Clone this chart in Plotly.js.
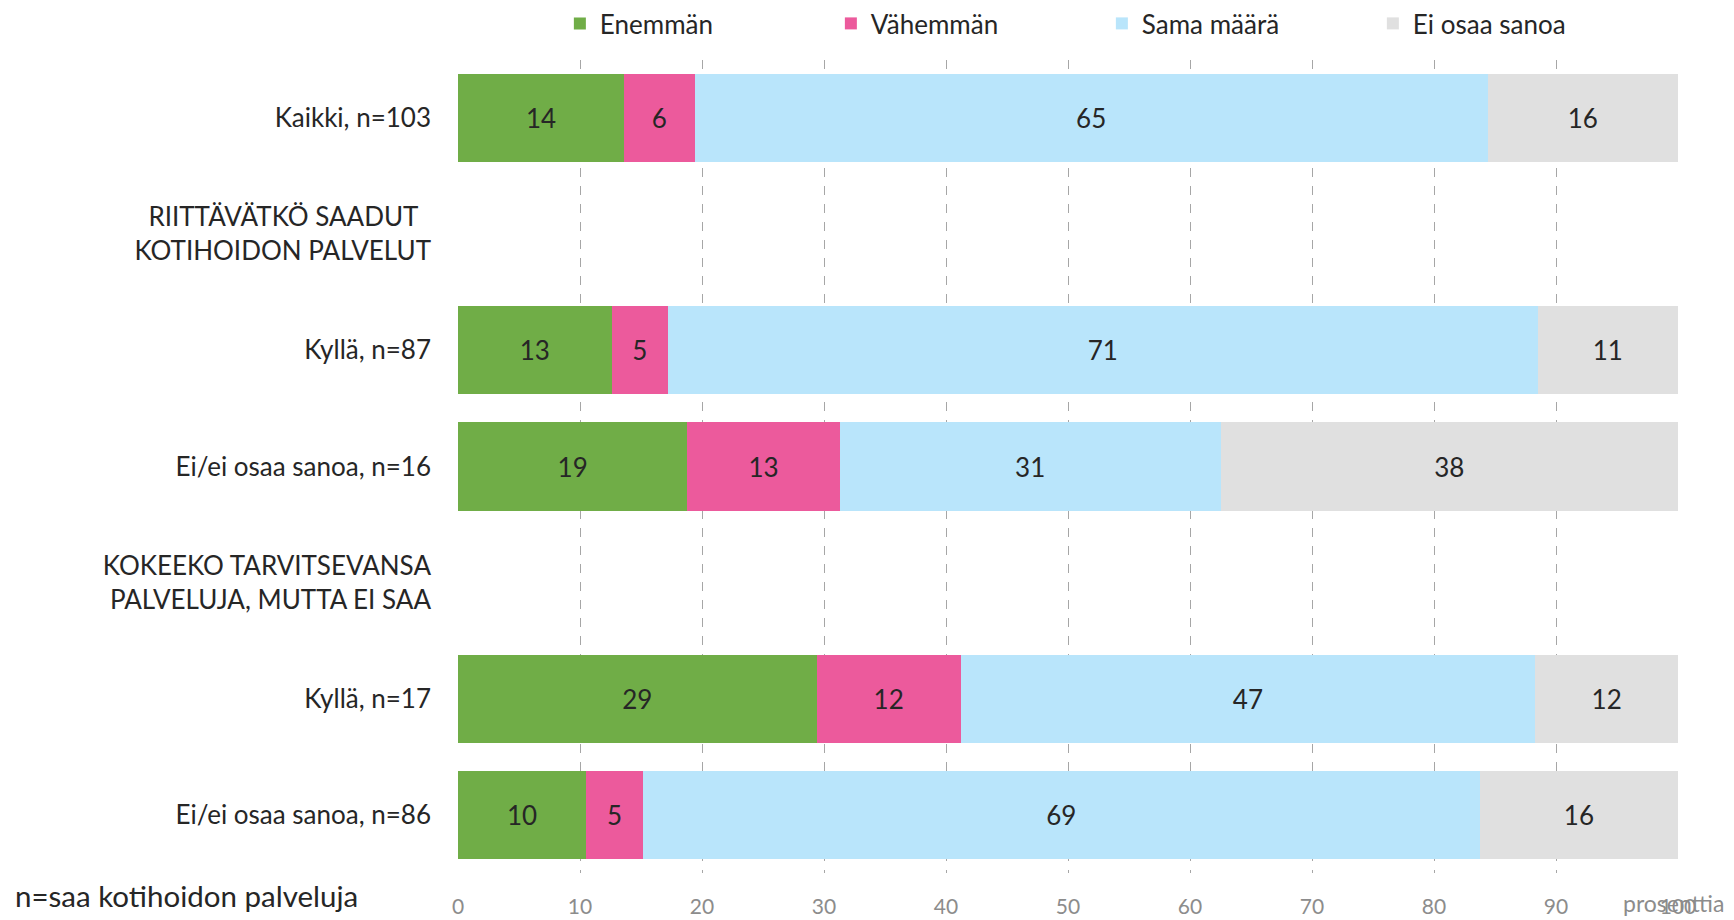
<!DOCTYPE html>
<html>
<head>
<meta charset="utf-8">
<script src="https://cdn.plot.ly/plotly-3.0.1.min.js"></script>
<style>
html,body{margin:0;padding:0;background:#fff;}
#chart{width:1734px;height:920px;}
</style>
</head>
<body>
<div id="chart"></div>
<script>
// Rows (top to bottom); header rows carry no bars
const categories = [
  "Kaikki, n=103",
  "RIITTÄVÄTKÖ SAADUT\u00a0\u00a0<br>KOTIHOIDON PALVELUT",
  "Kyllä, n=87",
  "Ei/ei osaa sanoa, n=16",
  "KOKEEKO TARVITSEVANSA<br>PALVELUJA, MUTTA EI SAA",
  "Kyllä, n=17\u200b",
  "Ei/ei osaa sanoa, n=86\u200b"
];
const barRows = ["Kaikki, n=103", "Kyllä, n=87", "Ei/ei osaa sanoa, n=16", "Kyllä, n=17\u200b", "Ei/ei osaa sanoa, n=86\u200b"];

const seriesNames = ["Enemmän", "Vähemmän", "Sama määrä", "Ei osaa sanoa"];
const enemman      = [13.6, 12.6, 18.8, 29.4, 10.5];
const vahemman     = [5.8, 4.6, 12.5, 11.8, 4.65];
const samaMaara    = [65.0, 71.3, 31.2, 47.1, 68.6];
const eiOsaaSanoa  = [15.6, 11.5, 37.5, 11.7, 16.25];
const enemmanLbl   = ["14", "13", "19", "29", "10"];
const vahemmanLbl  = ["6", "5", "13", "12", "5"];
const samaLbl      = ["65", "71", "31", "47", "69"];
const eiLbl        = ["16", "11", "38", "12", "16"];
const xTicks = [0, 10, 20, 30, 40, 50, 60, 70, 80, 90, 100];

const colors = ["#70AD47", "#EC5A9C", "#B9E5FB", "#E0E0E0"];
const values = [enemman, vahemman, samaMaara, eiOsaaSanoa];
const labels = [enemmanLbl, vahemmanLbl, samaLbl, eiLbl];

const FONT = "Lato, 'Open Sans', sans-serif";

const traces = seriesNames.map((name, i) => ({
  type: "bar",
  orientation: "h",
  name: name,
  y: barRows,
  x: values[i],
  text: labels[i],
  textposition: "inside",
  insidetextanchor: "middle",
  constraintext: "none",
  textfont: {family: FONT, size: 26, color: "#262626"},
  marker: {color: colors[i], line: {width: 0}},
  hoverinfo: "none"
}));

// keep header rows on the category axis
traces.push({
  type: "bar", orientation: "h", y: categories, x: categories.map(() => 0),
  showlegend: false, hoverinfo: "none", marker: {color: "rgba(0,0,0,0)"}
});

const layout = {
  width: 1734,
  height: 920,
  margin: {l: 458, r: 56, t: 60, b: 47},
  barmode: "stack",
  bargap: 0.24,
  paper_bgcolor: "#fff",
  plot_bgcolor: "#fff",
  font: {family: FONT, size: 26, color: "#262626"},
  showlegend: true,
  legend: {
    orientation: "h",
    x: 0.0835,
    xanchor: "left",
    xref: "paper",
    y: 1,
    yanchor: "top",
    yref: "container",
    entrywidth: 226,
    entrywidthmode: "pixels",
    traceorder: "normal",
    font: {family: FONT, size: 26, color: "#262626"}
  },
  xaxis: {
    range: [0, 100],
    tickvals: xTicks,
    ticktext: xTicks.map(String),
    showgrid: true,
    gridcolor: "#a6a6a6",
    griddash: "dash",
    gridwidth: 1,
    zeroline: false,
    showline: false,
    ticks: "",
    tickfont: {family: FONT, size: 21, color: "#8c8c8c"},
    ticklabelstandoff: 19,
    fixedrange: true
  },
  yaxis: {
    type: "category",
    categoryorder: "array",
    categoryarray: categories,
    range: [6.5, -0.5],
    showgrid: false,
    zeroline: false,
    showline: false,
    ticks: "",
    ticklabelstandoff: 26,
    tickfont: {family: FONT, size: 26, color: "#262626"},
    fixedrange: true
  },
  annotations: [
    {
      text: "prosenttia",
      xref: "paper", yref: "paper",
      x: 0.9967, y: 0, xanchor: "center", yanchor: "top", yshift: -14,
      showarrow: false,
      font: {family: FONT, size: 23, color: "#8c8c8c"}
    },
    {
      text: "n=saa kotihoidon palveluja",
      xref: "paper", yref: "paper",
      x: -0.365, y: 0, xanchor: "left", yanchor: "top", yshift: -3,
      showarrow: false,
      font: {family: FONT, size: 29.5, color: "#262626"}
    }
  ]
};

Plotly.newPlot("chart", traces, layout, {displayModeBar: false, staticPlot: true});
</script>
</body>
</html>
